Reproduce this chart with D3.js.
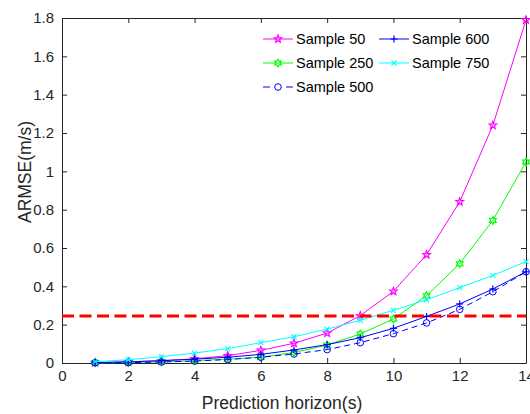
<!DOCTYPE html>
<html><head><meta charset="utf-8">
<script src="https://cdn.jsdelivr.net/npm/d3@7"></script>
<style>body{margin:0;background:#fff;} text{font-family:"Liberation Sans",Arial,sans-serif;}</style>
</head><body><svg id="c" width="530" height="414"></svg>
<script>
const horizon = [1,2,3,4,5,6,7,8,9,10,11,12,13,14];
const s50  = [0.002,0.006,0.012,0.022,0.038,0.066,0.103,0.156,0.247,0.374,0.565,0.841,1.24,1.79];
const s250 = [0.001,0.003,0.006,0.012,0.02,0.03,0.055,0.094,0.151,0.23,0.351,0.518,0.744,1.049];
const s500 = [0.001,0.002,0.005,0.01,0.018,0.03,0.047,0.07,0.106,0.153,0.209,0.28,0.372,0.476];
const s600 = [0.002,0.006,0.012,0.02,0.03,0.045,0.068,0.096,0.132,0.181,0.243,0.308,0.386,0.476];
const s750 = [0.007,0.017,0.033,0.052,0.075,0.106,0.137,0.177,0.223,0.275,0.33,0.393,0.457,0.529];
const threshold = 0.245;
const xTicks = [0,2,4,6,8,10,12,14];
const yTicks = [0,0.2,0.4,0.6,0.8,1,1.2,1.4,1.6,1.8];
const seriesNames = ["Sample 50","Sample 250","Sample 500","Sample 600","Sample 750"];

const series = [
  {name:seriesNames[0], vals:s50,  color:"#ff00ff", marker:"pentagram", dash:null},
  {name:seriesNames[1], vals:s250, color:"#00ff00", marker:"hexagram", dash:null},
  {name:seriesNames[2], vals:s500, color:"#0000ff", marker:"circle", dash:"6,4"},
  {name:seriesNames[3], vals:s600, color:"#0000ff", marker:"plus", dash:null},
  {name:seriesNames[4], vals:s750, color:"#00ffff", marker:"x", dash:null}
];

const svg = d3.select("#c");
const L=62, R=526, T=18, B=363;
const x = d3.scaleLinear().domain([0,14]).range([L,R]);
const y = d3.scaleLinear().domain([0,1.8]).range([B,T]);
const axisColor="#262626";

svg.append("defs").append("clipPath").attr("id","clip").append("rect")
  .attr("x",L-6).attr("y",T-6).attr("width",R-L+12).attr("height",B-T+12);

function styleAxis(g){
  g.selectAll("path").attr("stroke",axisColor);
  g.selectAll("line").attr("stroke",axisColor);
  g.selectAll("text").attr("fill",axisColor).style("font-size","15px");
}
const gx = svg.append("g").attr("transform",`translate(0,${B})`)
  .call(d3.axisBottom(x).tickValues(xTicks).tickSize(-5).tickPadding(7).tickSizeOuter(0).tickFormat(d3.format("d")));
styleAxis(gx);
const gy = svg.append("g").attr("transform",`translate(${L},0)`)
  .call(d3.axisLeft(y).tickValues(yTicks).tickSize(-5).tickPadding(8).tickSizeOuter(0).tickFormat(d=>d3.format("")(+d.toFixed(1))));
styleAxis(gy);
const gt = svg.append("g").attr("transform",`translate(0,${T})`)
  .call(d3.axisTop(x).tickValues(xTicks).tickSize(-5).tickSizeOuter(0).tickFormat(""));
styleAxis(gt);
const gr = svg.append("g").attr("transform",`translate(${R},0)`)
  .call(d3.axisRight(y).tickValues(yTicks).tickSize(-5).tickSizeOuter(0).tickFormat(""));
styleAxis(gr);

svg.append("text").attr("x",282).attr("y",409).attr("text-anchor","middle")
  .attr("fill",axisColor).style("font-size","17.5px").text("Prediction horizon(s)");
svg.append("text").attr("transform",`translate(31,172) rotate(-90)`).attr("text-anchor","middle")
  .attr("fill",axisColor).style("font-size","17.5px").text("ARMSE(m/s)");

function starPath(n, ro, ri){
  const pts=[];
  for(let i=0;i<2*n;i++){
    const r = i%2===0?ro:ri;
    const a = -Math.PI/2 + i*Math.PI/n;
    pts.push([r*Math.cos(a), r*Math.sin(a)]);
  }
  return "M"+pts.map(p=>p[0].toFixed(2)+","+p[1].toFixed(2)).join("L")+"Z";
}
function drawMarker(g, type, cx, cy, color){
  const m = g.append("g").attr("transform",`translate(${cx},${cy})`);
  if(type==="pentagram"){
    m.append("path").attr("d",starPath(5,4,1.7)).attr("fill","none").attr("stroke",color).attr("stroke-width",1.2);
  } else if(type==="hexagram"){
    m.append("path").attr("d",starPath(6,3.8,2.2)).attr("fill","none").attr("stroke",color).attr("stroke-width",1.2);
  } else if(type==="circle"){
    m.append("circle").attr("r",3.3).attr("fill","none").attr("stroke",color).attr("stroke-width",1);
  } else if(type==="plus"){
    m.append("path").attr("d","M-3.5,0L3.5,0M0,-3.5L0,3.5").attr("stroke",color).attr("stroke-width",1.2);
  } else if(type==="x"){
    m.append("path").attr("d","M-2.5,-2.5L2.5,2.5M-2.5,2.5L2.5,-2.5").attr("stroke",color).attr("stroke-width",1.1);
  }
}

const plot = svg.append("g").attr("clip-path","url(#clip)");
const line = d3.line().x((d,i)=>x(horizon[i])).y(d=>y(d));
series.forEach(s=>{
  plot.append("path").datum(s.vals).attr("d",line).attr("fill","none")
    .attr("stroke",s.color).attr("stroke-width",1).attr("stroke-dasharray",s.dash);
  s.vals.forEach((v,i)=>drawMarker(plot,s.marker,x(horizon[i]),y(v),s.color));
});

plot.append("line").attr("x1",x(0)).attr("x2",x(14)).attr("y1",y(threshold)).attr("y2",y(threshold))
  .attr("stroke","#ff0000").attr("stroke-width",3).attr("stroke-dasharray","12,5.5");

const leg = svg.append("g");
const legPos = [
  {col:0,row:0},{col:0,row:1},{col:0,row:2},{col:1,row:0},{col:1,row:1}
];
const colX=[263,379], rowY=[39,63,87];
series.forEach((s,i)=>{
  const p=legPos[i];
  const lx=colX[p.col], ly=rowY[p.row];
  leg.append("line").attr("x1",lx).attr("x2",lx+30).attr("y1",ly).attr("y2",ly)
    .attr("stroke",s.color).attr("stroke-width",1).attr("stroke-dasharray",s.dash?"7,16":null);
  drawMarker(leg,s.marker,lx+15,ly,s.color);
  leg.append("text").attr("x",lx+33).attr("y",ly+5).attr("fill","#000").style("font-size","14.5px").text(s.name);
});
</script></body></html>
